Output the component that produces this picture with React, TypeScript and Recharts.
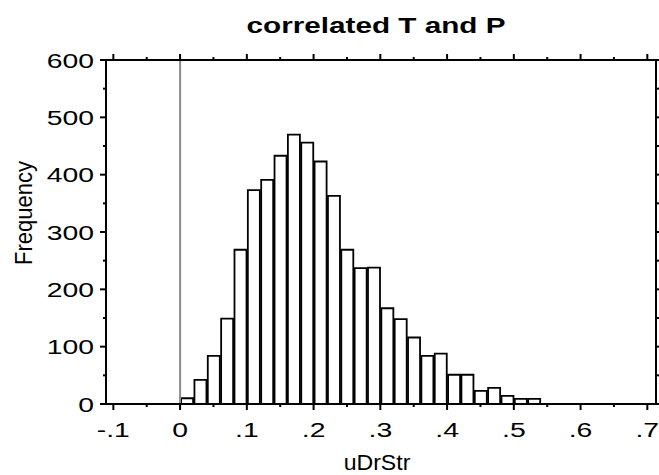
import React from "react";
import { ComposedChart, Bar, XAxis, YAxis, ReferenceLine, Label } from "recharts";

// histogram of uDrStr, bins of width 0.02 starting at 0
const binCenters = [
  0.01, 0.03, 0.05, 0.07, 0.09, 0.11, 0.13, 0.15, 0.17, 0.19, 0.21, 0.23, 0.25, 0.27,
  0.29, 0.31, 0.33, 0.35, 0.37, 0.39, 0.41, 0.43, 0.45, 0.47, 0.49, 0.51, 0.53,
];
const counts = [
  10, 42, 84, 149, 269, 373, 391, 433, 470, 456, 423, 363, 269, 237,
  238, 167, 148, 116, 84, 88, 51, 51, 23, 28, 14, 9, 9,
];

const xMajorTicks = [-0.1, 0, 0.1, 0.2, 0.3, 0.4, 0.5, 0.6, 0.7];
const xMinorTicks = [-0.05, 0.05, 0.15, 0.25, 0.35, 0.45, 0.55, 0.65];
const yMajorTicks = [0, 100, 200, 300, 400, 500, 600];
const yMinorTicks = [50, 150, 250, 350, 450, 550];

const title = "correlated T and P";
const xLabel = "uDrStr";
const yLabel = "Frequency";

const X_MIN = -0.111;
const X_MAX = 0.713;
const Y_MAX = 600;
const BIN_WIDTH = 0.02;

const W = 659;
const H = 475;
const margin = { top: 60, right: 3, bottom: 41, left: 66 };
const Y_AXIS_W = 40;
const X_AXIS_H = 30;
const PLOT_W = W - margin.left - margin.right - Y_AXIS_W;
const PLOT_H = H - margin.top - margin.bottom - X_AXIS_H;

const FONT = "'Liberation Sans', Arial, Helvetica, sans-serif";
// the original text is drawn wider than a plain Arial of the same height
const STRETCH = 1.35;

const data = binCenters.map((x, i) => ({ x, count: counts[i] }));

const isMajor = (v: number, majors: number[]) => majors.some((m) => Math.abs(m - v) < 1e-9);

const fmtX = (v: number) => {
  if (Math.abs(v) < 1e-9) return "0";
  return v.toFixed(1).replace("0.", ".");
};

function WideText({ x, y, anchor, size, bold, rotate, stretch = STRETCH, children }: any) {
  return (
    <text
      transform={`translate(${x},${y}) scale(${stretch},1)${rotate ? ` rotate(${rotate})` : ""}`}
      textAnchor={anchor}
      fontSize={size}
      fontWeight={bold ? "bold" : "normal"}
      fontFamily={FONT}
      fill="#000"
    >
      {children}
    </text>
  );
}

// bottom tick + its mirror on the top frame
function XTick(props: any) {
  const { x, y, payload } = props;
  const major = isMajor(payload.value, xMajorTicks);
  const len = major ? 6 : 3;
  const top = y - PLOT_H;
  return (
    <g>
      <line x1={x} x2={x} y1={y} y2={y + len} stroke="#000" strokeWidth={2} />
      <line x1={x} x2={x} y1={top} y2={top - len} stroke="#000" strokeWidth={2} />
      {major && (
        <WideText x={x} y={y + 33} anchor="middle" size={21}>
          {fmtX(payload.value)}
        </WideText>
      )}
    </g>
  );
}

// left tick + small tick on the right frame
function YTick(props: any) {
  const { x, y, payload } = props;
  const major = isMajor(payload.value, yMajorTicks);
  const right = x + PLOT_W;
  return (
    <g>
      <line x1={x} x2={x - (major ? 6 : 3)} y1={y} y2={y} stroke="#000" strokeWidth={2} />
      <line x1={right} x2={right + 3} y1={y} y2={y} stroke="#000" strokeWidth={2} />
      {major && (
        <WideText x={x - 12} y={y + 7.5} anchor="end" size={21}>
          {payload.value}
        </WideText>
      )}
    </g>
  );
}

export default function App() {
  const barSize = (PLOT_W * BIN_WIDTH) / (X_MAX - X_MIN);
  const allX = [...xMajorTicks, ...xMinorTicks].sort((a, b) => a - b);
  const allY = [...yMajorTicks, ...yMinorTicks].sort((a, b) => a - b);
  const axisLine = { stroke: "#000", strokeWidth: 2 };

  return (
    <div style={{ position: "absolute", left: 0, top: 0, width: W, height: H, background: "#fff" }}>
      <ComposedChart width={W} height={H} data={data} margin={margin}>
        <XAxis
          dataKey="x"
          type="number"
          domain={[X_MIN, X_MAX]}
          allowDataOverflow
          ticks={allX}
          interval={0}
          tickSize={0}
          tickMargin={0}
          tickLine={false}
          axisLine={axisLine}
          tick={<XTick />}
          height={X_AXIS_H}
        >
          <Label
            content={(p: any) => (
              <WideText x={p.viewBox.x + p.viewBox.width / 2 - 4} y={470} anchor="middle" size={22} stretch={1.05}>
                {xLabel}
              </WideText>
            )}
          />
        </XAxis>
        <YAxis
          type="number"
          domain={[0, Y_MAX]}
          allowDataOverflow
          ticks={allY}
          interval={0}
          tickSize={0}
          tickMargin={0}
          tickLine={false}
          axisLine={axisLine}
          tick={<YTick />}
          width={Y_AXIS_W}
        >
          <Label
            content={() => (
              <WideText x={32} y={213} anchor="middle" size={22} rotate={-90} stretch={1.05}>
                {yLabel}
              </WideText>
            )}
          />
        </YAxis>
        <Bar
          dataKey="count"
          barSize={barSize}
          fill="#fff"
          stroke="#000"
          strokeWidth={1.8}
          isAnimationActive={false}
        />
        <ReferenceLine x={0} stroke="#8a8a8a" strokeWidth={2} />
        {/* top and right frame */}
        <ReferenceLine y={Y_MAX} stroke="#000" strokeWidth={2} />
        <ReferenceLine x={X_MAX} stroke="#000" strokeWidth={2} />
        <ReferenceLine
          y={Y_MAX}
          stroke="none"
          label={(p: any) => (
            <WideText x={p.viewBox.x + p.viewBox.width / 2 - 5} y={33} anchor="middle" size={22} bold>
              {title}
            </WideText>
          )}
        />
      </ComposedChart>
    </div>
  );
}
